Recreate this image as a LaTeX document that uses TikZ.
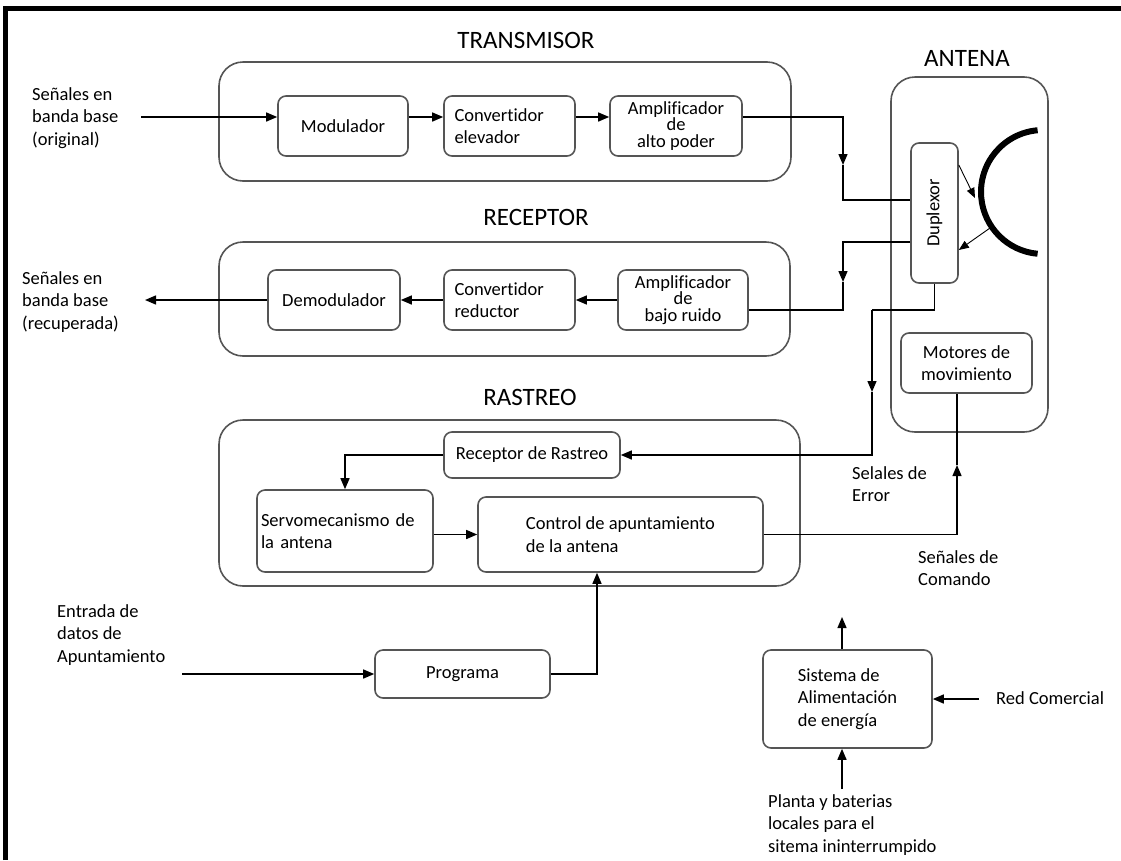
\documentclass[tikz,border=0pt]{standalone}
\usepackage{fontspec}
\usepackage{graphicx}
\setmainfont{Carlito}[Ligatures=NoCommon]
\usetikzlibrary{arrows.meta}
\definecolor{boxgray}{HTML}{555555}

\begin{document}
\begin{tikzpicture}[
  x=1pt, y=-1pt,
  >={Triangle[length=11pt,width=9pt]},
  font=\fontsize{18.5pt}{22.5pt}\selectfont,
  block/.style={rectangle, draw=boxgray, line width=1.6pt, rounded corners=8pt, align=center, inner sep=3pt},
  grpbox/.style={rectangle, draw=boxgray, line width=1.6pt, rounded corners=24pt},
  grptitle/.style={font=\fontsize{25pt}{29pt}\selectfont},
  lbl/.style={align=left, anchor=west, inner sep=2pt},
  tight/.style={font=\fontsize{18.5pt}{16.5pt}\selectfont},
  arr/.style={->, line width=1.4pt},
  wire/.style={line width=1.4pt},
  thinarr/.style={-{Triangle[length=10pt,width=8pt]}, line width=0.9pt}
]
\useasboundingbox (0,0) rectangle (1121,860);
\draw[line width=5pt] (5,860) -- (5,8) -- (1121,8);

\node[grpbox, minimum width=572, minimum height=119] (txg) at (505,121.5) {};
\node[grpbox, minimum width=571, minimum height=114] (rxg) at (504.5,299) {};
\node[grpbox, minimum width=581, minimum height=166] (rsg) at (509.5,503) {};
\node[grpbox, minimum width=157, minimum height=355] (ang) at (969.5,254.5) {};

\node[grptitle] (ttx) at (526,40) {TRANSMISOR};
\node[grptitle] (trx) at (536,217) {RECEPTOR};
\node[grptitle] (trs) at (530,397) {RASTREO};
\node[grptitle] (tan) at (967,58) {ANTENA};

\node[block, minimum width=130, minimum height=60] (mod) at (343,126) {Modulador};
\node[block, minimum width=131, minimum height=60, text width=110, align=left] (upc) at (509.5,126) {Convertidor\\elevador};
\node[block, tight, minimum width=132, minimum height=60] (hpa) at (676,126) {Amplificador\\de\\alto poder};

\node[block, minimum width=132, minimum height=60] (dem) at (334,300) {Demodulador};
\node[block, minimum width=131, minimum height=60, text width=110, align=left] (dnc) at (509.5,300) {Convertidor\\reductor};
\node[block, tight, minimum width=130, minimum height=60] (lna) at (683,300) {Amplificador\\de\\bajo ruido};

\node[block, minimum width=47, minimum height=140] (dup) at (934.5,213) {\rotatebox{90}{Duplexor}};
\node[block, minimum width=131, minimum height=60] (mot) at (966.5,363) {Motores de\\movimiento};

\node[block, minimum width=176, minimum height=46] (rrx) at (532,455) {Receptor de Rastreo};
\node[block, minimum width=176, minimum height=82, text width=168, align=left] (srv) at (345,531) {Servomecanismo de\\la antena};
\node[block, minimum width=285, minimum height=75, align=left] (ctl) at (620.5,534.5) {Control de apuntamiento\\de la antena};

\node[block, minimum width=175, minimum height=48] (prg) at (462.5,674) {Programa};
\node[block, minimum width=169, minimum height=98, align=left] (pwr) at (847.5,699) {Sistema de\\Alimentación\\de energía};

\node[lbl] (bbin) at (30,118) {Señales en\\banda base\\(original)};
\node[lbl] (bbout) at (20,302) {Señales en\\banda base\\(recuperada)};
\node[lbl] (ptin) at (55,635) {Entrada de\\datos de\\Apuntamiento};
\node[lbl] (err) at (850,484) {Selales de\\Error};
\node[lbl] (cmd) at (916,568) {Señales de\\Comando};
\node[lbl] (grid) at (994,698) {Red Comercial};
\node[lbl] (ups) at (766,825) {Planta y baterias\\locales para el\\sitema ininterrumpido};

\coordinate (in1) at (141,117);
\coordinate (out1) at (145,300);
\coordinate (in2) at (182,674);
\coordinate (txm) at (843,165);
\coordinate (txd) at (843,200);
\coordinate (rxa) at (843,242);
\coordinate (rxm) at (843,282);
\coordinate (rxb) at (843,310);
\coordinate (trk) at (872,310);
\coordinate (trkm) at (872,392);
\coordinate (cmdm) at (957,465);
\coordinate (pg) at (597,674);
\coordinate (pwrup) at (842,617);
\coordinate (pwrin) at (979,699);
\coordinate (upsin) at (842,789);
\coordinate (dish) at (1043,192);
\coordinate (dishin) at (975,198);
\coordinate (dishout) at (990,228);

\draw[line width=6pt] ([shift={(95:62pt)}]dish) arc[start angle=95, end angle=265, radius=62pt];
\draw[thinarr] ([yshift=48pt]dup.east) -- (dishin);
\draw[thinarr] (dishout) -- ([yshift=-37pt]dup.east);

\draw[arr] (in1) -- (in1 -| mod.west);
\draw[arr] (mod.east |- in1) -- (upc.west |- in1);
\draw[arr] (upc.east |- in1) -- (hpa.west |- in1);
\draw[arr] (hpa.east |- in1) -| (txm);
\draw[wire] (txm) |- (dup.west |- txd);

\draw[arr] (dup.west |- rxa) -| (rxm);
\draw[wire] (rxm) |- (lna.east |- rxb);
\draw[arr] (lna.west) -- (dnc.east);
\draw[arr] (dnc.west) -- (dem.east);
\draw[arr] (dem.west) -- (out1);

\draw[wire] (dup.south) |- (trk);
\draw[arr] (trk) -- (trkm);
\draw[arr] (trkm) |- (rrx.east);
\draw[arr] (rrx.west) -| (srv.north);
\draw[arr] (srv.east |- ctl.west) -- (ctl.west);
\draw[arr] (ctl.east) -| (cmdm);
\draw[wire] (cmdm) -- (mot.south -| cmdm);

\draw[arr] (in2) -- (prg.west);
\draw[arr] (prg.east) -| (ctl.south -| pg);
\draw[arr] (pwr.north -| pwrup) -- (pwrup);
\draw[arr] (pwrin) -- (pwr.east);
\draw[arr] (upsin) -- (pwr.south -| upsin);
\end{tikzpicture}
\end{document}
